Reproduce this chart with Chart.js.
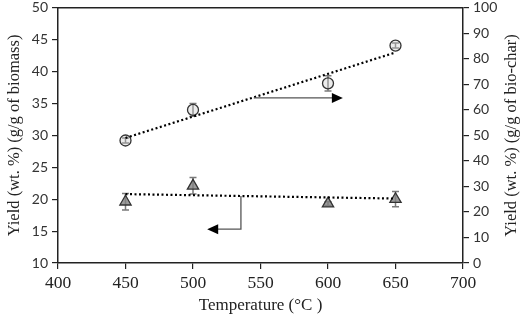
<!DOCTYPE html>
<html>
<head>
<meta charset="utf-8">
<script src="https://cdn.jsdelivr.net/npm/chart.js@4"></script>
<style>
  html, body { margin: 0; padding: 0; background: #fff; }
  #wrap { width: 526px; height: 316px; }
</style>
</head>
<body>
<div id="wrap"><canvas id="yieldChart" width="526" height="316"></canvas></div>
<script>
const temperatures = [450, 500, 600, 650];

// bio-oil yield, left axis (g/g of biomass)
const oilYield = [19.6, 22.1, 19.3, 20.0];
const oilError = [1.3, 1.3, 0.3, 1.2];

// upgraded yield, right axis (g/g of bio-char)
const charYield = [48, 60, 70.4, 85.2];
const charError = [1.0, 2.5, 3.0, 1.0];

// dotted trend lines, read at both ends
const trendTemps = [450, 650];
const oilTrend = [20.8, 20.1];
const charTrend = [49, 82.5];

const xTicks = [400, 450, 500, 550, 600, 650, 700];

const SERIF = '"Liberation Serif", "Times New Roman", serif';
const SANS = 'Lato, "Open Sans", sans-serif';
const ERR_COLOR = '#7a7a7a';

const toPoints = (xs, ys) => xs.map((x, i) => ({ x, y: ys[i] }));

// error bars, arrows, top frame line and right-hand title
const extrasPlugin = {
  id: 'extras',
  beforeDatasetsDraw(chart) {
    const { ctx, scales } = chart;
    const drawBars = (vals, errs, yScale) => {
      ctx.save();
      ctx.strokeStyle = ERR_COLOR;
      ctx.lineWidth = 1.5;
      temperatures.forEach((t, i) => {
        const px = scales.x.getPixelForValue(t);
        const top = yScale.getPixelForValue(vals[i] + errs[i]);
        const bot = yScale.getPixelForValue(vals[i] - errs[i]);
        ctx.beginPath();
        ctx.moveTo(px, top); ctx.lineTo(px, bot);
        ctx.moveTo(px - 3.5, top); ctx.lineTo(px + 3.5, top);
        ctx.moveTo(px - 3.5, bot); ctx.lineTo(px + 3.5, bot);
        ctx.stroke();
      });
      ctx.restore();
    };
    drawBars(oilYield, oilError, scales.y);
    drawBars(charYield, charError, scales.y2);
  },
  afterDatasetsDraw(chart) {
    const { ctx, scales, chartArea } = chart;
    const head = (x, y, dir) => {
      ctx.beginPath();
      ctx.moveTo(x, y);
      ctx.lineTo(x - dir * 11, y - 5);
      ctx.lineTo(x - dir * 11, y + 5);
      ctx.closePath();
      ctx.fill();
    };
    ctx.save();
    ctx.strokeStyle = '#555';
    ctx.fillStyle = '#000';
    ctx.lineWidth = 1.3;

    // arrow to right axis
    const y = scales.y2.getPixelForValue(64.7);
    const x0 = scales.x.getPixelForValue(545);
    const x1 = scales.x.getPixelForValue(611);
    ctx.beginPath(); ctx.moveTo(x0, y); ctx.lineTo(x1 - 8, y); ctx.stroke();
    head(x1, y, 1);

    // arrow to left axis
    const xv = scales.x.getPixelForValue(535.5);
    const yTop = scales.y.getPixelForValue(20.5);
    const yBot = scales.y.getPixelForValue(15.3);
    const xTip = scales.x.getPixelForValue(510.5);
    ctx.beginPath();
    ctx.moveTo(xv, yTop); ctx.lineTo(xv, yBot); ctx.lineTo(xTip + 8, yBot);
    ctx.stroke();
    head(xTip, yBot, -1);

    // top frame line
    ctx.strokeStyle = '#222';
    ctx.lineWidth = 1.5;
    ctx.beginPath();
    ctx.moveTo(chartArea.left, chartArea.top);
    ctx.lineTo(chartArea.right, chartArea.top);
    ctx.stroke();

    // right title, reading bottom to top
    ctx.translate(512, (chartArea.top + chartArea.bottom) / 2);
    ctx.rotate(-Math.PI / 2);
    ctx.fillStyle = '#222';
    ctx.font = '16.5px ' + SERIF;
    ctx.textAlign = 'center';
    ctx.textBaseline = 'middle';
    ctx.fillText('Yield (wt. %) (g/g of bio-char)', 0, 0);
    ctx.restore();
  }
};

const axisLook = {
  grid: { drawOnChartArea: false, drawTicks: true, tickLength: 6, color: '#222', lineWidth: 1.2 },
  border: { display: true, color: '#222', width: 1.5 },
};

const fitSide = width => scale => {
  scale.width = width;
  scale.paddingTop = 6;
  scale.paddingBottom = 0;
};

new Chart(document.getElementById('yieldChart').getContext('2d'), {
  type: 'line',
  data: {
    datasets: [
      {
        data: toPoints(trendTemps, charTrend),
        yAxisID: 'y2',
        borderColor: '#000',
        borderWidth: 2.2,
        borderDash: [2, 2.5],
        pointRadius: 0,
      },
      {
        data: toPoints(trendTemps, oilTrend),
        yAxisID: 'y',
        borderColor: '#000',
        borderWidth: 2.2,
        borderDash: [2, 2.5],
        pointRadius: 0,
      },
      {
        data: toPoints(temperatures, charYield),
        yAxisID: 'y2',
        showLine: false,
        pointStyle: 'circle',
        pointRadius: 5.5,
        pointBorderWidth: 1.3,
        pointBackgroundColor: 'rgba(200,200,200,0.35)',
        pointBorderColor: '#333',
      },
      {
        data: toPoints(temperatures, oilYield),
        yAxisID: 'y',
        showLine: false,
        pointStyle: 'triangle',
        pointRadius: 6.5,
        pointBorderWidth: 1.3,
        pointBackgroundColor: 'rgba(130,130,130,0.8)',
        pointBorderColor: '#333',
      },
    ],
  },
  options: {
    responsive: false,
    animation: false,
    layout: { padding: { top: 0, left: 0, right: 0, bottom: 0 } },
    plugins: { legend: { display: false }, tooltip: { enabled: false } },
    scales: {
      x: {
        type: 'linear',
        min: 400,
        max: 700,
        afterBuildTicks: scale => { scale.ticks = xTicks.map(value => ({ value })); },
        afterFit: scale => { scale.height = 53; },
        ticks: { color: '#222', padding: 4, font: { family: SERIF, size: 17.5 } },
        title: {
          display: true,
          text: 'Temperature (°C )',
          color: '#222',
          padding: { top: 0, bottom: 0 },
          font: { family: SERIF, size: 17 },
        },
        ...axisLook,
      },
      y: {
        position: 'left',
        min: 10,
        max: 50,
        afterFit: fitSide(58),
        ticks: { stepSize: 5, color: '#333', padding: 4, font: { family: SANS, size: 14 } },
        title: {
          display: true,
          text: 'Yield (wt. %) (g/g of biomass)',
          color: '#222',
          padding: { top: 5, bottom: 0 },
          font: { family: SERIF, size: 16.5 },
        },
        ...axisLook,
      },
      y2: {
        position: 'right',
        min: 0,
        max: 100,
        afterFit: fitSide(63),
        ticks: { stepSize: 10, color: '#333', padding: 4, font: { family: SANS, size: 14 } },
        ...axisLook,
      },
    },
  },
  plugins: [extrasPlugin],
});
</script>
</body>
</html>
